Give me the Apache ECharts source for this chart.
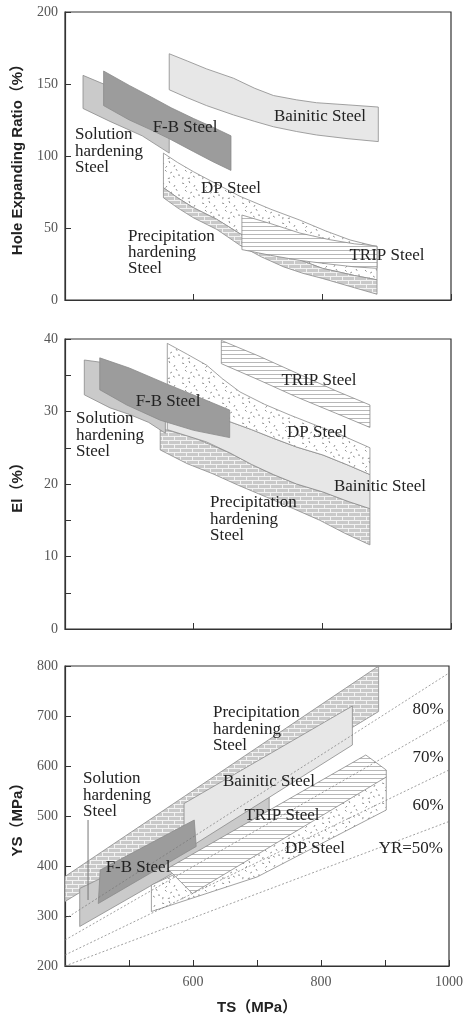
<!DOCTYPE html>
<html><head><meta charset="utf-8">
<script src="https://cdn.jsdelivr.net/npm/echarts@6/dist/echarts.min.js"></script>
<style>html,body{margin:0;padding:0;background:#fff}#c{width:466px;height:1019px}</style>
</head><body><div id="c"></div>
<script>
// ---------- DATA ----------
// Hole Expanding Ratio (%) vs TS (MPa): band edges [TS, HER]
const herSolutionTop = [[428,156],[460,150],[500,142],[530,135],[562,126]];
const herSolutionBottom = [[428,133],[470,124],[520,114],[562,102]];
const herFBTop = [[460,159],[500,149],[532,141.5],[565,133.5],[600,126],[630,120],[658,114]];
const herFBBottom = [[460,135],[500,125],[532,118.5],[562,112],[600,103],[630,96],[658,90]];
const herBainiticTop = [[562,171],[590,166],[620,160.5],[662,154],[695,147],[724,142],[760,139],[791,137],[840,135.5],[887,134]];
const herBainiticBottom = [[562,146],[590,140.5],[620,135],[662,128.5],[695,124],[724,120.3],[760,117],[791,114.6],[840,112],[887,110]];
const herDPTop = [[553,102],[575,95.5],[600,89],[636,80.5],[672,72],[720,63],[765,55.5],[805,48],[843,41.7],[885,37]];
const herPrecipTop = [[553,78],[575,71],[600,64],[636,56],[672,46],[705,39.5],[740,33],[770,27],[800,22],[850,17],[885,14]];
const herPrecipBottom = [[553,71],[575,64],[600,57],[636,49],[672,38],[705,30],[740,23],[770,18.5],[800,15],[850,8.5],[885,4]];
const herTRIPTop = [[675,59],[720,53],[765,46.5],[810,42],[850,39],[885,37.5]];
const herTRIPBottom = [[675,35],[720,31],[765,27.5],[810,25],[850,23],[885,22]];

// El (%) vs TS (MPa): band edges [TS, El]
const elSolutionTop = [[430,37.1],[455,36.8],[500,35],[556,32]];
const elSolutionBottom = [[430,32.3],[470,30.5],[500,29.6],[530,28.5],[556,27]];
const elFBTop = [[454,37.4],[500,36],[558,33.8],[610,31.9],[656,30.2]];
const elFBBottom = [[454,33],[496,30.9],[548,28.8],[600,27.4],[656,26.4]];
const elDPTop = [[559,39.4],[590,37.9],[620,36.4],[645,34.5],[672,32.7],[710,31],[750,29.5],[790,28.1],[828,26.8],[874,25]];
const elBainiticTop = [[559,31],[620,29.6],[656,28.6],[690,27.5],[724,26.3],[760,25.1],[801,24],[840,22.6],[874,21.3]];
const elBainiticBottom = [[559,27.5],[620,25.8],[656,24.3],[690,22.7],[724,21.3],[760,20],[801,18.9],[840,17.6],[874,16.6]];
const elPrecipTop = [[548,27.7],[600,26.4],[656,24.3],[690,22.7],[724,21.3],[760,20],[801,18.9],[840,17.6],[874,16.6]];
const elPrecipBottom = [[548,24.7],[590,22.8],[630,21.4],[670,19.8],[713,18.2],[755,16.6],[796,15],[835,13.2],[874,11.6]];
const elTRIPTop = [[643,39.8],[700,37.7],[760,35.3],[820,32.9],[874,30.9]];
const elTRIPBottom = [[643,36.6],[700,34.4],[760,32],[820,29.8],[874,27.8]];

// YS (MPa) vs TS (MPa): polygon vertices [TS, YS]
const ysPrecip = [[400,379],[890,800],[890,709],[400,329]];
const ysSolution = [[423,355],[719,539],[719,495],[532,359],[423,279]];
const ysBainitic = [[586,525],[849,720],[849,642],[586,430]];
const ysFB = [[455,392],[602,492],[605,439],[452,325]];
const ysDP = [[535,362],[902,578],[902,512],[700,378],[535,309]];
const ysTRIP = [[560,395],[870,622],[902,592],[902,578],[599,345]];
const ysSolutionLeader = [[436,332],[436,492]];
// Yield-ratio reference lines
const yr80 = [[400,294],[1000,786]];
const yr70 = [[400,252],[1000,692]];
const yr60 = [[400,222],[1000,592]];
const yr50 = [[400,200],[1000,489]];

// ---------- PATTERNS ----------
function tile(w, h, draw) {
  const c = document.createElement('canvas'); c.width = w; c.height = h;
  draw(c.getContext('2d')); return { image: c, repeat: 'repeat' };
}
const brick = tile(12, 8, g => {
  g.fillStyle = '#c9c9c9'; g.fillRect(0,0,12,8);
  g.strokeStyle = '#f2f2f2'; g.lineWidth = 1;
  g.beginPath();
  g.moveTo(0,0.5); g.lineTo(12,0.5); g.moveTo(0,4.5); g.lineTo(12,4.5);
  g.moveTo(0.5,0); g.lineTo(0.5,4); g.moveTo(6.5,4); g.lineTo(6.5,8);
  g.stroke();
});
const speckle = tile(20, 20, g => {
  g.fillStyle = '#ffffff'; g.fillRect(0,0,20,20);
  g.strokeStyle = '#777'; g.lineWidth = 0.8;
  const d = [[2,3,0.3],[9,1,1.2],[15,5,2.1],[5,10,0.8],[12,12,2.6],[18,15,0.1],[3,17,1.7],[10,18,2.9],[16,9,1.0],[7,6,2.3],[13,16,0.6]];
  g.beginPath();
  d.forEach(([x,y,a]) => { g.moveTo(x,y); g.lineTo(x+2.2*Math.cos(a), y+2.2*Math.sin(a)); });
  g.stroke();
});
const stripes = tile(4, 4, g => {
  g.fillStyle = '#ffffff'; g.fillRect(0,0,4,4);
  g.strokeStyle = '#b8b8b8'; g.lineWidth = 1;
  g.beginPath(); g.moveTo(0,2.5); g.lineTo(4,2.5); g.stroke();
});
const cSolution = '#cacaca', cFB = '#9c9c9c', cBainitic = '#e7e7e7';

// ---------- HELPERS ----------
function band(top, bottom) { return top.concat(bottom.slice().reverse()); }
function region(idx, pts, fill) {
  return {
    type: 'custom', xAxisIndex: idx, yAxisIndex: idx, silent: true,
    data: [pts[0]], encode: { x: 0, y: 1 },
    renderItem: function (params, api) {
      return { type: 'polygon', shape: { points: pts.map(p => api.coord(p)) },
        style: { fill: fill, stroke: '#8a8a8a', lineWidth: 0.8 } };
    }
  };
}
function refLine(data, solid) {
  return { type: 'line', xAxisIndex: 2, yAxisIndex: 2, data: data, symbol: 'none', silent: true,
    lineStyle: solid ? { color: '#777', width: 1 } : { color: '#777', width: 0.7, type: [2, 2] } };
}
const serif = 'Liberation Serif, Times New Roman, serif';
const sans = 'Liberation Sans, Arial, Noto Sans CJK SC, sans-serif';
const axisLineStyle = { color: '#333', width: 1.2 };
function xAxis(i, interval, showLabel) {
  return { type: 'value', gridIndex: i, min: 400, max: 1000, interval: interval,
    axisLine: { lineStyle: axisLineStyle },
    axisTick: { inside: true, length: 6, lineStyle: { color: '#333' } },
    axisLabel: { show: showLabel, margin: 9, fontFamily: serif, fontSize: 14, color: '#555',
      formatter: v => (v === 600 || v === 800 || v === 1000) ? String(v) : '' },
    splitLine: { show: false },
    name: showLabel ? 'TS（MPa）' : '', nameLocation: 'middle', nameGap: 34,
    nameTextStyle: { fontFamily: sans, fontSize: 15, fontWeight: 'bold', color: '#222' } };
}
function yAxis(i, min, max, interval, name, fmt) {
  return { type: 'value', gridIndex: i, min: min, max: max, interval: interval,
    axisLine: { lineStyle: axisLineStyle },
    axisTick: { inside: true, length: 6, lineStyle: { color: '#333' } },
    axisLabel: { margin: 7, fontFamily: serif, fontSize: 14, color: '#555', formatter: fmt },
    splitLine: { show: false },
    name: name, nameLocation: 'middle', nameGap: 40, nameRotate: 90,
    nameTextStyle: { fontFamily: sans, fontSize: 15, fontWeight: 'bold', color: '#222' } };
}
function txt(x, y, text, align, lh) {
  const L = lh || 16.5;
  return { type: 'text', x: x, y: y - L / 2, silent: true, z: 100, zlevel: 0,
    style: { text: text, font: '17px ' + serif, fill: '#222', align: align || 'center',
      verticalAlign: 'top', lineHeight: L } };
}

// ---------- OPTION ----------
const option = {
  animation: false,
  backgroundColor: '#fff',
  grid: [
    { left: 65, right: 15, top: 12, height: 288, show: true, borderColor: '#333', borderWidth: 1.2 },
    { left: 65, right: 15, top: 339, height: 290, show: true, borderColor: '#333', borderWidth: 1.2 },
    { left: 65, right: 15, top: 666, height: 300, show: true, borderColor: '#333', borderWidth: 1.2 }
  ],
  xAxis: [xAxis(0, 200, false), xAxis(1, 200, false), xAxis(2, 100, true)],
  yAxis: [
    yAxis(0, 0, 200, 50, 'Hole Expanding Ratio（%）'),
    yAxis(1, 0, 40, 5, 'El（%）', v => (v % 10 === 0 ? String(v) : '')),
    yAxis(2, 200, 800, 100, 'YS（MPa）')
  ],
  series: [
    // HER
    region(0, band(herBainiticTop, herBainiticBottom), cBainitic),
    region(0, band(herSolutionTop, herSolutionBottom), cSolution),
    region(0, band(herFBTop, herFBBottom), cFB),
    region(0, band(herDPTop, herPrecipTop), speckle),
    region(0, band(herPrecipTop, herPrecipBottom), brick),
    region(0, band(herTRIPTop, herTRIPBottom), stripes),
    // El
    region(1, band(elPrecipTop, elPrecipBottom), brick),
    region(1, band(elBainiticTop, elBainiticBottom), cBainitic),
    region(1, band(elDPTop, elBainiticTop), speckle),
    region(1, band(elSolutionTop, elSolutionBottom), cSolution),
    region(1, band(elFBTop, elFBBottom), cFB),
    region(1, band(elTRIPTop, elTRIPBottom), stripes),
    // YS
    region(2, ysPrecip, brick),
    region(2, ysSolution, cSolution),
    region(2, ysBainitic, cBainitic),
    region(2, ysFB, cFB),
    region(2, ysDP, speckle),
    region(2, ysTRIP, stripes),
    refLine(yr80), refLine(yr70), refLine(yr60), refLine(yr50),
    refLine(ysSolutionLeader, true)
  ],
  graphic: {
    elements: [
      // top panel
      txt(75, 135, 'Solution\nhardening\nSteel', 'left'),
      txt(185, 128, 'F-B Steel'),
      txt(320, 117, 'Bainitic Steel'),
      txt(231, 189, 'DP Steel'),
      txt(128, 237, 'Precipitation\nhardening\nSteel', 'left', 16),
      txt(387, 256, 'TRIP Steel'),
      // middle panel
      txt(76, 419, 'Solution\nhardening\nSteel', 'left'),
      txt(168, 402, 'F-B Steel'),
      txt(319, 381, 'TRIP Steel'),
      txt(317, 433, 'DP Steel'),
      txt(380, 487, 'Bainitic Steel'),
      txt(210, 503, 'Precipitation\nhardening\nSteel', 'left'),
      // bottom panel
      txt(213, 713, 'Precipitation\nhardening\nSteel', 'left'),
      txt(269, 782, 'Bainitic Steel'),
      txt(83, 779, 'Solution\nhardening\nSteel', 'left', 16.2),
      txt(282, 816, 'TRIP Steel'),
      txt(315, 849, 'DP Steel'),
      txt(138, 868, 'F-B Steel'),
      txt(428, 710, '80%'),
      txt(428, 758, '70%'),
      txt(428, 806, '60%'),
      txt(443, 849, 'YR=50%', 'right')
    ]
  }
};
const chart = echarts.init(document.getElementById('c'), null, { renderer: 'canvas' });
chart.setOption(option);
</script></body></html>
